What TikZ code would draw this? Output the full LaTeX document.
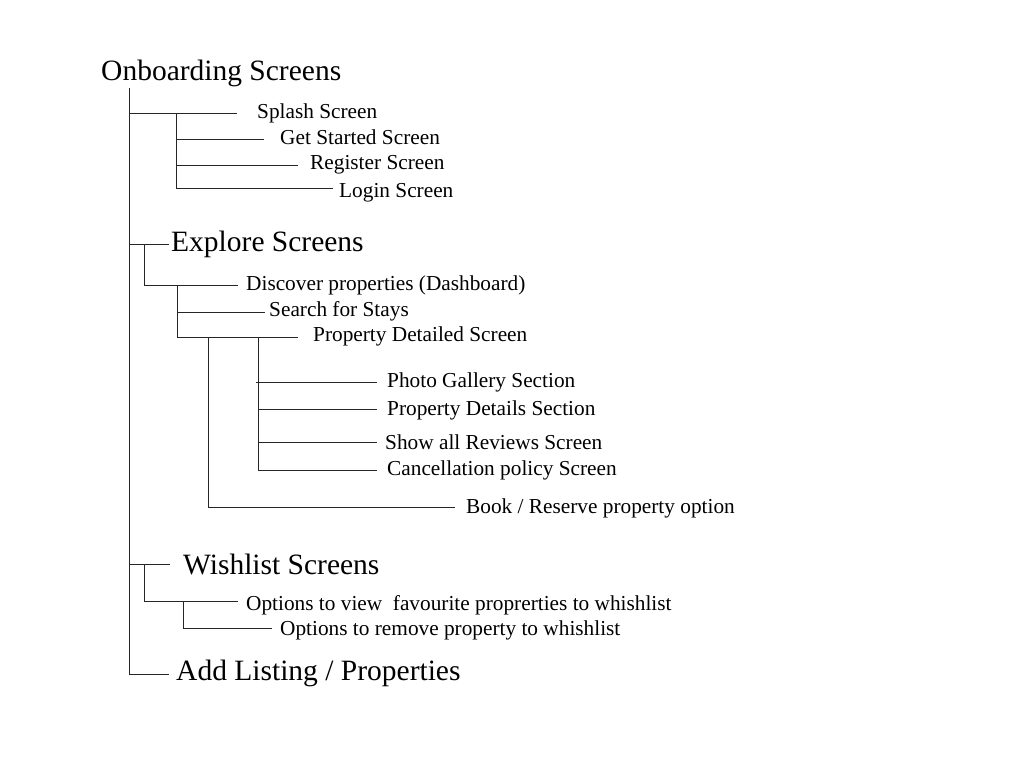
\documentclass[tikz,border=0pt]{standalone}
\usepackage{fontspec}
\setmainfont{Liberation Serif}
\begin{document}
\begin{tikzpicture}[x=1pt,y=-1pt,
  big/.style={anchor=west,inner sep=0pt,yshift=-3pt,font=\fontsize{29.5}{34}\selectfont},
  small/.style={anchor=west,inner sep=0pt,yshift=-2.5pt,font=\fontsize{21.3}{25}\selectfont},
  branch/.style={draw=black!85,line width=1pt}]
\useasboundingbox[fill=white] (0,0) rectangle (1024,768);
% texts
\node[big] (onb) at (101,70) {Onboarding Screens};
\node[small] (spl) at (257,111) {Splash Screen};
\node[small] (gst) at (280,135) {Get Started Screen};
\node[small] (reg) at (310,162) {Register Screen};
\node[small] (log) at (339,190) {Login Screen};
\node[big] (exp) at (171,241) {Explore Screens};
\node[small] (dis) at (246,283) {Discover properties (Dashboard)};
\node[small] (sea) at (269,309) {Search for Stays};
\node[small] (pds) at (313,334) {Property Detailed Screen};
\node[small] (pgs) at (387,380) {Photo Gallery Section};
\node[small] (pdt) at (387,408) {Property Details Section};
\node[small] (sar) at (385,440) {Show all Reviews Screen};
\node[small] (can) at (387,468) {Cancellation policy Screen};
\node[small] (bok) at (466,506) {Book / Reserve property option};
\node[big] (wis) at (183,561) {Wishlist Screens};
\node[small] (ovf) at (246,603) {Options to view\ \ favourite proprerties to whishlist};
\node[small] (orm) at (280,628) {Options to remove property to whishlist};
\node[big] (add) at (176,670) {Add Listing / Properties};
% main trunk
\coordinate (t0) at (129,88);
\coordinate (t1) at (129,674);
\draw[branch] (t0) -- (t1) -- (169,674);
% onboarding
\draw[branch] (129,113) -- (237,113);
\draw[branch] (176,113) -- (176,188) -- (333,188);
\draw[branch] (176,139) -- (264,139);
\draw[branch] (176,165) -- (298,165);
% explore
\draw[branch] (129,244) -- (169,244);
\draw[branch] (144,244) -- (144,285) -- (238,285);
\draw[branch] (177,285) -- (177,337) -- (298,337);
\draw[branch] (177,312) -- (265,312);
\draw[branch] (208,337) -- (208,507) -- (455,507);
\draw[branch] (258,337) -- (258,470) -- (377,470);
\draw[branch] (256,382) -- (377,382);
\draw[branch] (258,409) -- (377,409);
\draw[branch] (258,442) -- (377,442);
% wishlist
\draw[branch] (129,564) -- (170,564);
\draw[branch] (144,564) -- (144,601) -- (238,601);
\draw[branch] (183,601) -- (183,628) -- (272,628);
\end{tikzpicture}
\end{document}
